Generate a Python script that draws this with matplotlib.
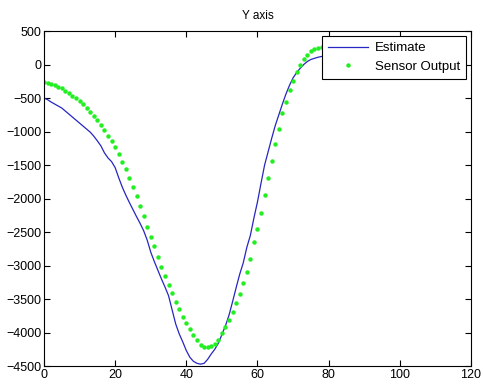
import numpy as np
import matplotlib
matplotlib.use('Agg')
import matplotlib.pyplot as plt

plt.rcParams['font.family'] = ['Liberation Sans', 'DejaVu Sans']

# sample index, one reading per step
x = np.arange(0, 81)

# filtered estimate
estimate = [-500, -525, -560, -590, -620, -650, -695, -740, -785, -830,
            -875, -920, -965, -1010, -1070, -1140, -1215, -1320, -1395, -1450,
            -1540, -1690, -1830, -1950, -2060, -2165, -2270, -2370, -2480, -2620,
            -2800, -2940, -3070, -3200, -3320, -3450, -3660, -3870, -4020, -4140,
            -4270, -4370, -4430, -4460, -4472, -4460, -4400, -4320, -4250, -4160,
            -4030, -3900, -3740, -3540, -3330, -3130, -2960, -2730, -2550, -2290,
            -2050, -1770, -1500, -1300, -1100, -910, -750, -590, -440, -310,
            -200, -120, -57, 0, 45, 75, 92, 108, 120, 127, 130]

# raw sensor readings
sensor = [-257, -270, -285, -305, -330, -356, -390, -425, -465, -500,
          -545, -595, -650, -710, -770, -835, -905, -980, -1060, -1145,
          -1237, -1337, -1450, -1565, -1690, -1830, -1970, -2110, -2265, -2420,
          -2570, -2715, -2870, -3020, -3155, -3285, -3415, -3540, -3655, -3765,
          -3855, -3945, -4035, -4115, -4180, -4215, -4222, -4205, -4165, -4105,
          -4005, -3924, -3809, -3690, -3564, -3429, -3265, -3103, -2900, -2656,
          -2461, -2213, -1949, -1699, -1440, -1180, -963, -720, -553, -383,
          -240, -110, -5, 77, 145, 195, 224, 250, 266, 268, 270]

xticks = np.arange(0, 121, 20)
yticks = np.arange(-4500, 501, 500)

fig = plt.figure(figsize=(4.83, 3.90), dpi=100)
ax = fig.add_axes([0.0911, 0.0615, 0.884, 0.859])

ax.plot(x, estimate, color='#2626c0', lw=0.9, label='Estimate')
ax.plot(x, sensor, ls='none', marker='o', ms=3.2, mec='none',
        color='#22ee22', label='Sensor Output')

ax.set_xlim(0, 120)
ax.set_ylim(-4500, 500)
ax.set_xticks(xticks)
ax.set_yticks(yticks)
ax.tick_params(direction='in', top=True, right=True, length=4,
               labelsize=9, width=0.8, pad=2)
for s in ax.spines.values():
    s.set_linewidth(0.8)
ax.set_title('Y axis', fontsize=8.5, pad=9)

leg = ax.legend(loc='upper right', fontsize=9.5, fancybox=False,
                framealpha=1, edgecolor='black', borderaxespad=0.4,
                handlelength=3.0, borderpad=0.45, labelspacing=0.45,
                handletextpad=0.5, numpoints=1)
leg.get_frame().set_linewidth(0.8)

fig.savefig('out.png', dpi=100)
